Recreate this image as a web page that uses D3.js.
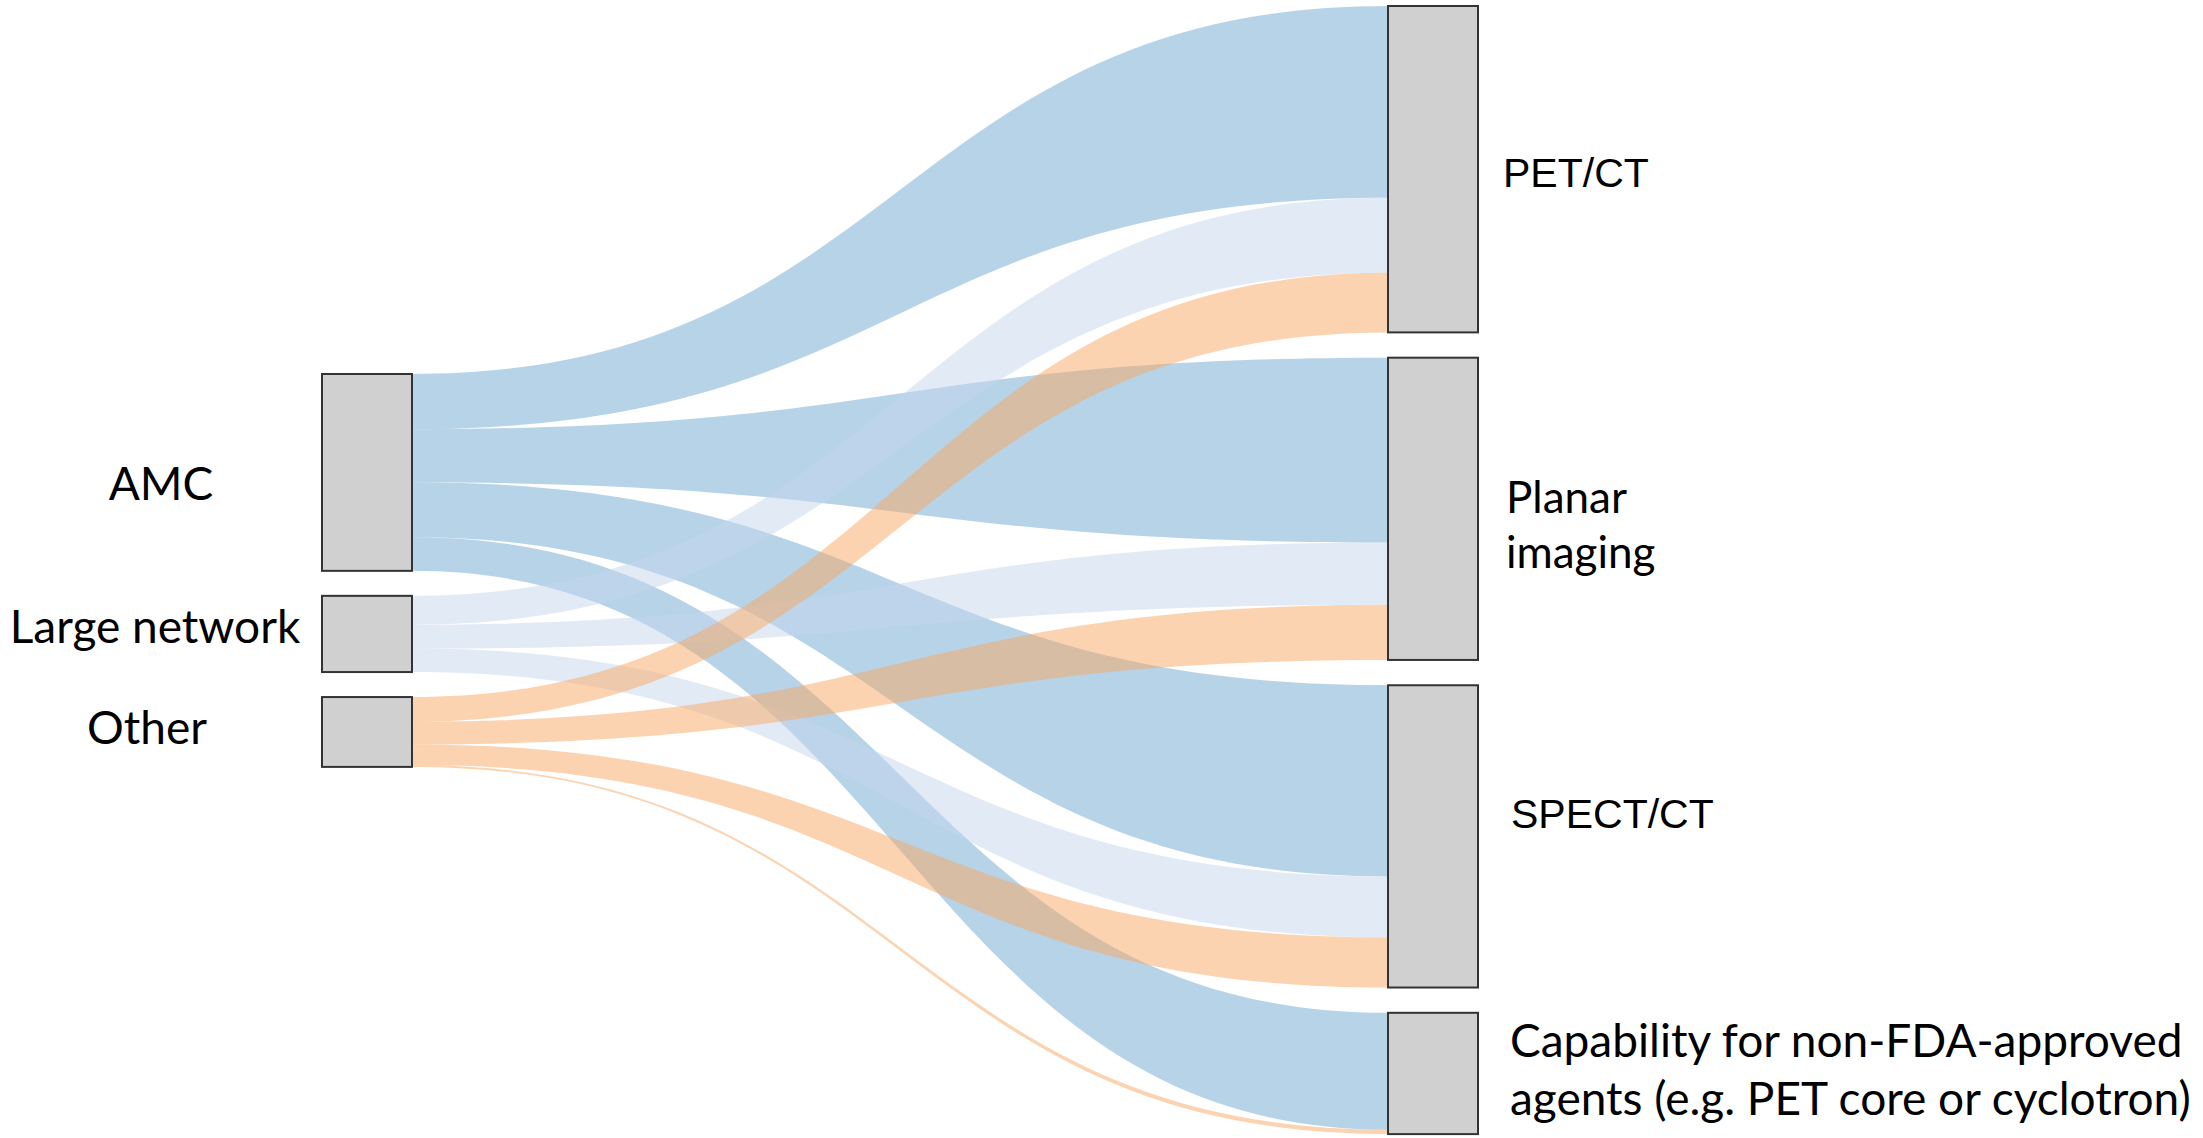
<!DOCTYPE html>
<html>
<head>
<meta charset="utf-8">
<script src="https://cdn.jsdelivr.net/npm/d3@7"></script>
<style>
  html, body { margin: 0; padding: 0; background: #ffffff; }
  svg { display: block; }
</style>
</head>
<body>
<svg id="chart" width="2203" height="1138"></svg>
<script>
// ---- DATA ----
const sources = ["AMC", "Large network", "Other"];
const sourceCounts = [31, 12, 11];
const targets = ["PET/CT", "Planar imaging", "SPECT/CT", "Capability for non-FDA-approved agents (e.g. PET core or cyclotron)"];
const amcValues = [30.2, 29.1, 30.1, 18.4];
const largeNetworkValues = [11.8, 9.8, 9.6, 0];
const otherValues = [9.4, 8.7, 7.9, 0.7];
const seriesValues = [amcValues, largeNetworkValues, otherValues];

// ---- STYLE / LAYOUT ----
const linkColors = ["rgba(111,167,209,0.5)", "rgba(197,213,235,0.5)", "rgba(249,167,97,0.5)"];
const nodeFill = "#d0d0d0";
const nodeStroke = "#333333";
const leftX0 = 322, leftX1 = 412, rightX0 = 1388, rightX1 = 1478;
const leftTop = 374, rightTop = 6, leftGap = 25, rightGap = 25.3;

const svg = d3.select("#chart");
const k = d3.scaleLinear().domain([0, 1]).range([0, 6.35]);

// left nodes
const leftNodes = [];
let y = leftTop;
sources.forEach((s, i) => {
  const h = k(sourceCounts[i]);
  leftNodes.push({ name: s, y0: y, y1: y + h });
  y += h + leftGap;
});
// right nodes
const rightNodes = [];
y = rightTop;
targets.forEach((t, j) => {
  const tot = d3.sum(seriesValues, v => v[j]);
  const h = k(tot);
  rightNodes.push({ name: t, y0: y, y1: y + h });
  y += h + rightGap;
});

// links: source side squeezed into the source node, target side at full scale
const links = [];
const cursor = rightNodes.map(n => n.y0);
sources.forEach((s, i) => {
  const vals = seriesValues[i];
  const tot = d3.sum(vals);
  const node = leftNodes[i];
  const hh = node.y1 - node.y0;
  let cur = node.y0;
  vals.forEach((v, j) => {
    if (v <= 0) return;
    const sw = hh * v / tot;
    const tw = k(v);
    links.push({
      src: i, tgt: j,
      sy0: cur, sy1: cur + sw,
      ty0: cursor[j], ty1: cursor[j] + tw
    });
    cur += sw;
    cursor[j] += tw;
  });
});

function bandPath(l) {
  const x0 = leftX1, x1 = rightX0, xm = (x0 + x1) / 2;
  const p = d3.path();
  p.moveTo(x0, l.sy0);
  p.bezierCurveTo(xm, l.sy0, xm, l.ty0, x1, l.ty0);
  p.lineTo(x1, l.ty1);
  p.bezierCurveTo(xm, l.ty1, xm, l.sy1, x0, l.sy1);
  p.closePath();
  return p.toString();
}

svg.append("g").selectAll("path")
  .data(links)
  .join("path")
  .attr("d", bandPath)
  .attr("fill", d => linkColors[d.src]);

// nodes
svg.append("g").selectAll("rect")
  .data(leftNodes)
  .join("rect")
  .attr("x", leftX0).attr("y", d => d.y0)
  .attr("width", leftX1 - leftX0).attr("height", d => d.y1 - d.y0)
  .attr("fill", nodeFill).attr("stroke", nodeStroke).attr("stroke-width", 2);
svg.append("g").selectAll("rect")
  .data(rightNodes)
  .join("rect")
  .attr("x", rightX0).attr("y", d => d.y0)
  .attr("width", rightX1 - rightX0).attr("height", d => d.y1 - d.y0)
  .attr("fill", nodeFill).attr("stroke", nodeStroke).attr("stroke-width", 2);

// labels
const aptosLike = "Lato, 'Open Sans', sans-serif";
const leftLabelPos = [{ x: 161, y: 500 }, { x: 155, y: 643 }, { x: 147, y: 744 }];
svg.append("g").selectAll("text")
  .data(sources)
  .join("text")
  .attr("x", (d, i) => leftLabelPos[i].x)
  .attr("y", (d, i) => leftLabelPos[i].y)
  .attr("text-anchor", "middle")
  .attr("font-family", aptosLike)
  .attr("font-size", 46)
  .attr("fill", "#000")
  .text(d => d);

const rightLabels = [
  { lines: ["PET/CT"], x: 1503, y: 187, font: "'Liberation Sans', Arial, sans-serif", size: 41, lh: 55 },
  { lines: ["Planar", "imaging"], x: 1506, y: 513, font: aptosLike, size: 44, lh: 55 },
  { lines: ["SPECT/CT"], x: 1511, y: 828, font: "'Liberation Sans', Arial, sans-serif", size: 41, lh: 55 },
  { lines: ["Capability for non-FDA-approved", "agents (e.g. PET core or cyclotron)"], x: 1510, y: 1057, font: aptosLike, size: 46, lh: 58 }
];
const rl = svg.append("g").selectAll("text")
  .data(rightLabels)
  .join("text")
  .attr("font-family", d => d.font)
  .attr("font-size", d => d.size)
  .attr("fill", "#000");
rl.each(function(d) {
  d3.select(this).selectAll("tspan")
    .data(d.lines)
    .join("tspan")
    .attr("x", d.x)
    .attr("y", (line, i) => d.y + i * d.lh)
    .text(line => line);
});
</script>
</body>
</html>
